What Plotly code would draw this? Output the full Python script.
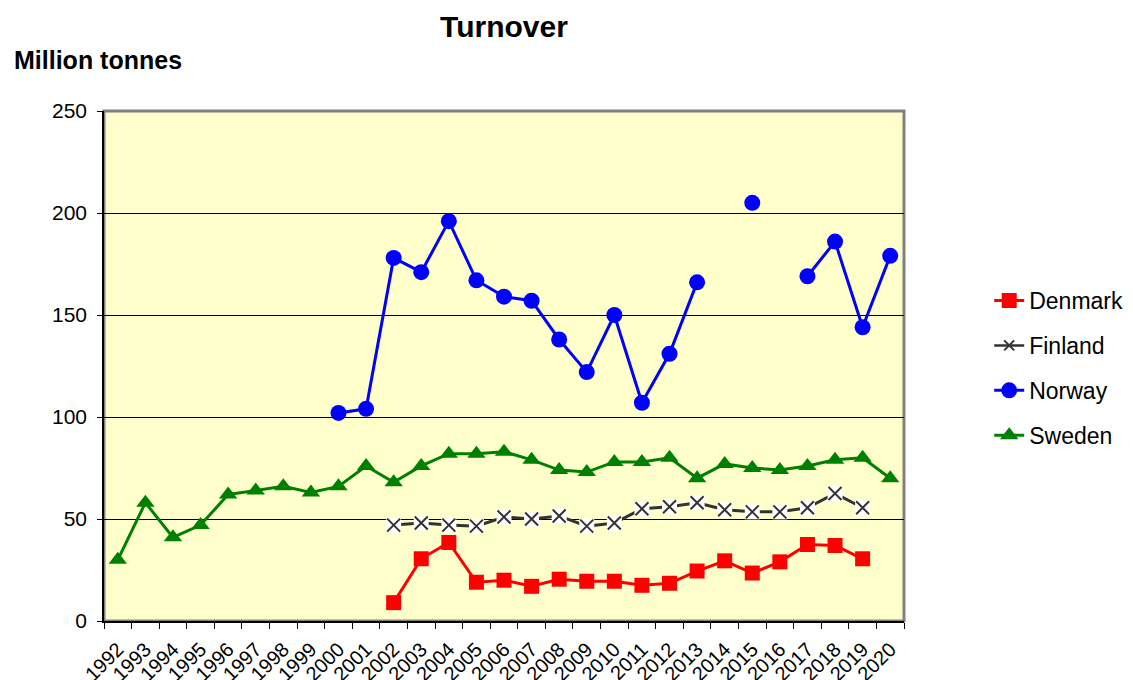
import plotly.graph_objects as go

years = [str(y) for y in range(1992, 2021)]

denmark = [None]*10 + [9, 30.5, 38.5, 19, 20, 17, 20.5, 19.5, 19.5, 17.5, 18.5, 24.5, 29.5, 23.5, 29, 37.5, 37, 30.5, None]
finland = [None]*10 + [47, 48, 47, 46.5, 51, 50, 51.5, 46.5, 48, 55, 56, 58, 54.5, 53.5, 53.5, 55.5, 62.5, 55.5, None]
norway = [None]*8 + [102, 104, 178, 171, 196, 167, 159, 157, 138, 122, 150, 107, 131, 166, None, 205, None, 169, 186, 144, 179]
sweden = [30, 58, 41, 47, 62, 64, 66, 63, 66, 76, 68, 76, 82, 82, 83, 79, 74, 73, 78, 78, 80, 70, 77, 75, 74, 76, 79, 80, 70]

FONT = "Liberation Sans, Arial, sans-serif"
FIN = "#333333"

fig = go.Figure()

fig.add_trace(go.Scatter(x=years, y=denmark, name="Denmark", mode="lines+markers",
                         legendgroup="d", legendrank=1, connectgaps=False,
                         line=dict(color="#FF0000", width=3),
                         marker=dict(symbol="square", size=15, color="#FF0000")))

# Finland: line with white boxes, then x markers on top
fig.add_trace(go.Scatter(x=years, y=finland, name="Finland", mode="lines+markers",
                         showlegend=False, legendgroup="f", connectgaps=False,
                         line=dict(color=FIN, width=3),
                         marker=dict(symbol="square", size=15, color="white")))
fig.add_trace(go.Scatter(x=years, y=finland, name="Finland", mode="markers",
                         showlegend=False, legendgroup="f",
                         marker=dict(symbol="x-thin", size=13, line=dict(color=FIN, width=2))))
fig.add_trace(go.Scatter(x=[None], y=[None], name="Finland", mode="lines+markers",
                         legendgroup="f", legendrank=2,
                         line=dict(color=FIN, width=2.5),
                         marker=dict(symbol="x-thin", size=10, line=dict(color=FIN, width=2))))

fig.add_trace(go.Scatter(x=years, y=norway, name="Norway", mode="lines+markers",
                         legendgroup="n", legendrank=3, connectgaps=False,
                         line=dict(color="#0000FF", width=3),
                         marker=dict(symbol="circle", size=16, color="#0000FF")))

fig.add_trace(go.Scatter(x=years, y=sweden, name="Sweden", mode="lines+markers",
                         legendgroup="s", legendrank=4, connectgaps=False,
                         line=dict(color="#008000", width=3),
                         marker=dict(symbol="triangle-up", size=16, color="#008000")))

fig.update_layout(
    width=1125, height=672,
    margin=dict(l=96, r=229, t=103, b=59, autoexpand=False),
    paper_bgcolor="white", plot_bgcolor="#FFFFCC",
    font=dict(family=FONT, color="black", size=20),
    title=dict(text="<b>Turnover</b>", x=0.5, xref="paper", xanchor="center",
               y=1 - 18/672, yanchor="middle", font=dict(size=30, family=FONT, color="black")),
    showlegend=True,
    legend=dict(x=1.1065, xanchor="left", y=0.496, yanchor="middle",
                font=dict(size=23, family=FONT, color="black"),
                tracegroupgap=12, bgcolor="rgba(0,0,0,0)"),
    annotations=[dict(text="<b>Million tonnes</b>", xref="paper", yref="paper",
                      x=-0.115, y=1.1, xanchor="left", yanchor="middle", showarrow=False,
                      font=dict(size=25, family=FONT, color="black"))],
    shapes=[dict(type="rect", xref="paper", yref="paper", x0=0, y0=0, x1=1, y1=1,
                 line=dict(color="#808080", width=3), layer="below")],
)

fig.update_xaxes(type="category", categoryorder="array", categoryarray=years,
                 tickmode="array", tickvals=years, ticktext=years,
                 tickangle=-45, tickson="boundaries", ticks="outside", ticklen=6,
                 tickcolor="black", showgrid=False, showline=True, linecolor="black",
                 linewidth=1.5, tickfont=dict(size=20, family=FONT, color="black"),
                 ticklabelstandoff=7, range=[-0.5, 28.5], automargin=False)

fig.update_yaxes(range=[0, 250], dtick=50, ticks="outside", ticklen=5, tickcolor="black",
                 showgrid=True, gridcolor="black", gridwidth=1, zeroline=False,
                 showline=True, linecolor="black", linewidth=1.5, ticklabelstandoff=6,
                 tickfont=dict(size=21, family=FONT, color="black"), automargin=False)

fig.write_html("out.html")
